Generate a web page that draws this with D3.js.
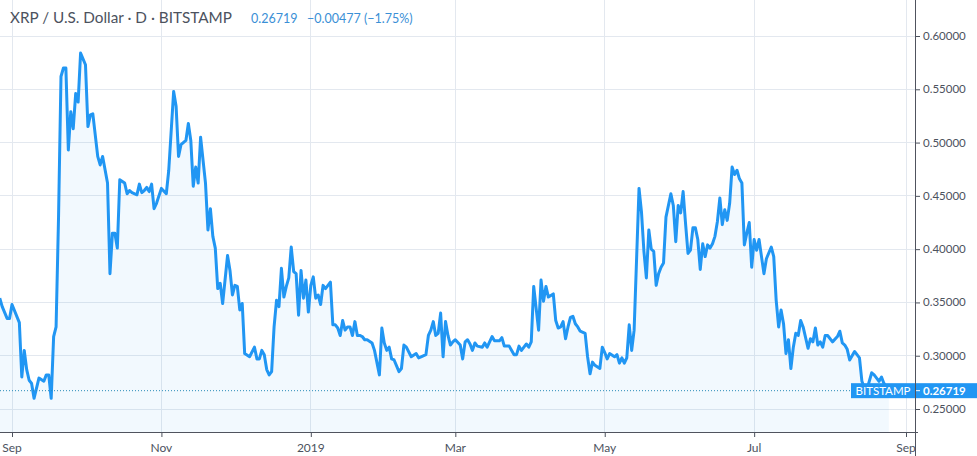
<!DOCTYPE html>
<html><head><meta charset="utf-8">
<script src="https://cdn.jsdelivr.net/npm/d3@7/dist/d3.min.js"></script>
<style>html,body{margin:0;padding:0;background:#fff;overflow:hidden}svg{display:block}</style>
</head><body>
<script>
// ---- data ----
const startDate = "2018-09-01";
const dayOffsets = [-5,-4,-2,-1,0,3,4,5,6,7,8,9,11,13,14,15,16,17,18,19,20,21,22,23,24,25,26,27,28,30,31,32,33,35,36,37,39,40,41,42,43,44,46,47,48,49,51,52,53,54,55,56,57,58,59,61,63,64,66,67,68,69,71,72,73,74,75,76,77,79,80,81,82,83,84,85,86,88,89,90,91,92,93,94,95,97,99,100,101,102,103,104,105,106,107,108,109,110,111,112,113,114,115,116,117,118,119,120,121,122,123,124,125,126,127,128,130,131,132,133,134,135,136,137,138,139,140,141,142,143,144,145,147,148,150,151,152,153,154,155,156,158,159,160,161,163,165,166,167,169,170,171,172,173,174,175,176,177,178,179,180,181,183,184,185,186,187,188,189,190,192,193,194,196,197,199,200,201,203,204,205,206,207,208,209,210,211,212,213,215,216,217,218,219,221,222,223,224,225,226,227,228,229,230,231,232,234,235,236,237,238,240,241,242,243,244,246,247,248,249,250,251,252,253,254,256,257,258,259,260,261,262,263,264,265,266,267,269,270,271,272,273,274,275,276,277,278,279,280,281,282,283,284,285,286,287,288,289,290,291,292,293,294,295,296,297,298,299,300,301,302,303,304,305,306,307,308,310,311,312,313,314,315,316,317,318,319,320,321,322,323,325,326,327,328,329,330,331,332,333,335,337,338,339,340,341,342,344,346,347,348,349,351,352,354,355,356,358];
const closes = [0.354,0.346,0.335,0.335,0.348,0.331,0.280,0.305,0.287,0.277,0.274,0.260,0.279,0.276,0.282,0.282,0.260,0.318,0.327,0.430,0.562,0.570,0.570,0.493,0.529,0.513,0.546,0.538,0.584,0.573,0.515,0.526,0.527,0.487,0.479,0.487,0.462,0.377,0.415,0.415,0.401,0.465,0.462,0.452,0.455,0.453,0.451,0.461,0.453,0.455,0.458,0.454,0.461,0.438,0.443,0.457,0.452,0.474,0.548,0.534,0.487,0.498,0.502,0.518,0.502,0.459,0.477,0.462,0.505,0.462,0.418,0.438,0.412,0.401,0.363,0.368,0.349,0.394,0.380,0.357,0.366,0.365,0.343,0.349,0.302,0.299,0.308,0.297,0.297,0.305,0.301,0.287,0.282,0.285,0.327,0.352,0.346,0.382,0.355,0.365,0.373,0.402,0.379,0.377,0.338,0.380,0.354,0.371,0.341,0.366,0.374,0.354,0.357,0.348,0.366,0.363,0.369,0.329,0.329,0.326,0.319,0.333,0.324,0.327,0.327,0.319,0.332,0.319,0.319,0.318,0.315,0.315,0.312,0.305,0.282,0.326,0.312,0.305,0.308,0.297,0.296,0.285,0.288,0.310,0.308,0.299,0.302,0.298,0.299,0.301,0.319,0.324,0.332,0.319,0.321,0.340,0.299,0.332,0.319,0.310,0.313,0.315,0.310,0.297,0.313,0.315,0.311,0.305,0.312,0.309,0.308,0.312,0.308,0.318,0.314,0.314,0.317,0.309,0.309,0.305,0.301,0.301,0.309,0.305,0.308,0.311,0.308,0.313,0.365,0.324,0.371,0.351,0.365,0.355,0.358,0.333,0.326,0.327,0.332,0.316,0.327,0.336,0.337,0.330,0.327,0.323,0.321,0.299,0.283,0.294,0.291,0.288,0.308,0.303,0.297,0.302,0.299,0.301,0.293,0.298,0.293,0.298,0.329,0.305,0.324,0.457,0.435,0.398,0.373,0.418,0.400,0.398,0.366,0.377,0.383,0.387,0.430,0.452,0.441,0.407,0.441,0.434,0.454,0.424,0.396,0.399,0.420,0.420,0.409,0.381,0.405,0.393,0.404,0.401,0.405,0.412,0.426,0.448,0.423,0.437,0.427,0.443,0.477,0.470,0.474,0.466,0.462,0.404,0.415,0.425,0.383,0.409,0.399,0.409,0.393,0.377,0.391,0.402,0.393,0.352,0.327,0.343,0.330,0.302,0.315,0.288,0.308,0.321,0.319,0.333,0.327,0.307,0.316,0.313,0.326,0.310,0.313,0.308,0.319,0.319,0.313,0.318,0.323,0.312,0.310,0.306,0.296,0.304,0.298,0.276,0.270,0.268,0.284,0.282,0.276,0.280,0.274,0.267];
const yTicks = [0.25,0.30,0.35,0.40,0.45,0.50,0.55,0.60];
const xTickStart = "2018-09-01", xTickEnd = "2019-09-01";
const titleText = "XRP / U.S. Dollar · D · BITSTAMP";
const lastPrice = 0.26719;
const changeText = "−0.00477 (−1.75%)";
const exchangeLabel = "BITSTAMP";

// ---- chart ----
const W = 977, H = 456;
const plotRight = 915, plotBottom = 432;
const start = new Date(startDate + "T00:00:00Z");
const data = dayOffsets.map((d, i) => ({date: d3.utcDay.offset(start, d), v: closes[i]}));

const x = d3.scaleUtc().domain([new Date(xTickStart + "T00:00:00Z"), new Date(xTickEnd + "T00:00:00Z")]).range([12, 906]);
const y = d3.scaleLinear().domain([0.25, 0.60]).range([409, 36]);

const svg = d3.select("body").append("svg").attr("width", W).attr("height", H);
const font = "Lato, 'Liberation Sans', sans-serif";
const axisColor = "#4c525e";

// grid
const xt = d3.utcMonth.every(2).range(x.domain()[0], d3.utcDay.offset(x.domain()[1], 1));
svg.append("g").selectAll("line").data(xt).join("line")
  .attr("x1", d => x(d)).attr("x2", d => x(d)).attr("y1", 0).attr("y2", plotBottom)
  .attr("stroke", "#e3e8ef").attr("stroke-width", 1).attr("shape-rendering", "crispEdges");
svg.append("g").selectAll("line").data(yTicks).join("line")
  .attr("x1", 0).attr("x2", plotRight).attr("y1", d => y(d)).attr("y2", d => y(d))
  .attr("stroke", "#e3e8ef").attr("stroke-width", 1).attr("shape-rendering", "crispEdges");

// area + line
const area = d3.area().x(d => x(d.date)).y0(plotBottom).y1(d => y(d.v));
svg.append("path").datum(data).attr("d", area).attr("fill", "rgba(33,150,243,0.06)");
const line = d3.line().x(d => x(d.date)).y(d => y(d.v));
svg.append("path").datum(data).attr("d", line).attr("fill", "none")
  .attr("stroke", "#2196f3").attr("stroke-width", 3).attr("stroke-linejoin", "round");

// price line
const py = y(lastPrice);
svg.append("line").attr("x1", 0).attr("x2", 851).attr("y1", py).attr("y2", py)
  .attr("stroke", "#2a8bb8").attr("stroke-width", 1).attr("stroke-dasharray", "1,2");

// axes
svg.append("line").attr("x1", 0).attr("x2", plotRight + 3).attr("y1", plotBottom + 0.5).attr("y2", plotBottom + 0.5)
  .attr("stroke", "#50535e").attr("stroke-width", 1);
svg.append("line").attr("x1", plotRight + 0.5).attr("x2", plotRight + 0.5).attr("y1", 0).attr("y2", H)
  .attr("stroke", "#50535e").attr("stroke-width", 1);

// y ticks
const yg = svg.append("g");
yg.selectAll("line").data(yTicks).join("line")
  .attr("x1", plotRight + 1).attr("x2", plotRight + 5).attr("y1", d => y(d) + 0.5).attr("y2", d => y(d) + 0.5)
  .attr("stroke", axisColor);
yg.selectAll("text").data(yTicks).join("text")
  .attr("x", 923).attr("y", d => y(d)).attr("dy", "0.35em")
  .attr("font-family", font).attr("font-size", 11.5).attr("fill", axisColor)
  .text(d => d3.format(".5f")(d));

// x ticks
const xfmt = d => d.getUTCMonth() === 0 ? d3.utcFormat("%Y")(d) : d3.utcFormat("%b")(d);
const xg = svg.append("g");
xg.selectAll("line").data(xt).join("line")
  .attr("x1", d => x(d) + 0.5).attr("x2", d => x(d) + 0.5).attr("y1", plotBottom + 1).attr("y2", plotBottom + 5)
  .attr("stroke", axisColor);
xg.selectAll("text").data(xt).join("text")
  .attr("x", d => x(d)).attr("y", 452).attr("text-anchor", "middle")
  .attr("font-family", font).attr("font-size", 12).attr("fill", axisColor)
  .text(xfmt);

// exchange label + price label
svg.append("rect").attr("x", 851).attr("y", py - 7.5).attr("width", 64).attr("height", 15).attr("fill", "#2196f3");
svg.append("text").attr("x", 883).attr("y", py).attr("dy", "0.35em").attr("text-anchor", "middle")
  .attr("font-family", font).attr("font-size", 11.5).attr("fill", "#fff").text(exchangeLabel);
svg.append("rect").attr("x", 916).attr("y", py - 7.5).attr("width", 61).attr("height", 15).attr("fill", "#2196f3");
svg.append("line").attr("x1", plotRight + 1).attr("x2", plotRight + 5).attr("y1", py).attr("y2", py).attr("stroke", "#fff");
svg.append("text").attr("x", 923).attr("y", py).attr("dy", "0.35em")
  .attr("font-family", font).attr("font-size", 11.5).attr("font-weight", "bold").attr("fill", "#fff")
  .text(d3.format(".5f")(lastPrice));

// header
const t1 = svg.append("text").attr("x", 10).attr("y", 23).attr("font-family", font).attr("font-size", 15.5)
  .attr("fill", "#4c525e").text(titleText);
const w1 = t1.node().getComputedTextLength();
t1.attr("font-size", 15.5 * 222 / w1);
svg.append("text").attr("x", 251).attr("y", 22.5).attr("font-family", font).attr("font-size", 12.5)
  .attr("fill", "#3a8fd6").text(d3.format(".5f")(lastPrice));
svg.append("text").attr("x", 307).attr("y", 22.5).attr("font-family", font).attr("font-size", 12.5)
  .attr("fill", "#3a8fd6").text(changeText);
</script>
</body></html>
